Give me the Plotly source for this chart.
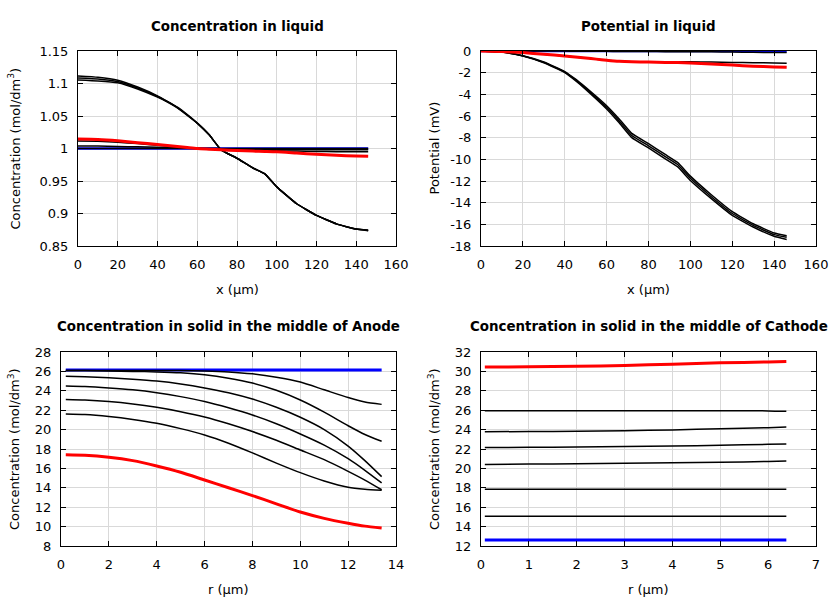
import plotly.graph_objects as go

# ---------------- data ----------------
x_liq = [0, 10, 20, 30, 40, 45, 50, 55, 60, 66, 72, 80, 88, 94, 100, 110, 120, 130, 140, 146]

# Concentration in liquid (mol/dm3)
cl_blue = [1.0] * 20
cl_flat = [1.0] * 20
cl_b2 = [1.004, 1.0038, 1.0032, 1.0025, 1.0018, 1.0014, 1.001, 1.0006, 1.0003, 1.0, 0.9997, 0.9994, 0.999, 0.9988, 0.9986, 0.9984, 0.9982, 0.998, 0.998, 0.998]
cl_b3 = [1.0115, 1.011, 1.0095, 1.0075, 1.005, 1.0038, 1.0025, 1.0012, 1.0, 0.9992, 0.9985, 0.998, 0.9975, 0.997, 0.9965, 0.996, 0.9955, 0.995, 0.995, 0.995]
cl_s1 = [1.1115, 1.1095, 1.105, 1.0945, 1.081, 1.0725, 1.0635, 1.052, 1.039, 1.021, 0.998, 0.985, 0.970, 0.961, 0.941, 0.915, 0.897, 0.884, 0.876, 0.8745]
cl_s2 = [1.1085, 1.107, 1.103, 1.093, 1.080, 1.072, 1.063, 1.0515, 1.039, 1.021, 0.998, 0.985, 0.970, 0.961, 0.941, 0.915, 0.897, 0.884, 0.876, 0.874]
cl_s3 = [1.1055, 1.104, 1.101, 1.0915, 1.079, 1.0715, 1.0625, 1.051, 1.039, 1.021, 0.998, 0.985, 0.970, 0.961, 0.941, 0.915, 0.897, 0.884, 0.876, 0.8735]
cl_red = [1.0145, 1.014, 1.012, 1.009, 1.006, 1.0045, 1.003, 1.0015, 1.0, 0.999, 0.998, 0.997, 0.996, 0.9955, 0.995, 0.993, 0.991, 0.9895, 0.9885, 0.988]

# Potential in liquid (mV)
pl_blue = [0.0] * 20
pl_b1 = [0, 0, 0, 0, -0.01, -0.015, -0.02, -0.025, -0.03, -0.04, -0.05, -0.05, -0.06, -0.06, -0.07, -0.08, -0.1, -0.12, -0.14, -0.15]
pl_b2 = [0, -0.05, -0.15, -0.3, -0.45, -0.55, -0.65, -0.75, -0.85, -0.95, -1.0, -1.0, -1.0, -1.0, -1.0, -1.02, -1.05, -1.08, -1.1, -1.12]
pl_s1 = [0, -0.1, -0.43, -1.01, -1.9, -2.58, -3.36, -4.18, -5.05, -6.27, -7.6, -8.55, -9.55, -10.3, -11.55, -13.27, -14.83, -15.95, -16.8, -17.05]
pl_s2 = [0, -0.1, -0.45, -1.05, -1.95, -2.65, -3.45, -4.3, -5.2, -6.45, -7.8, -8.75, -9.75, -10.5, -11.75, -13.45, -15.0, -16.1, -16.95, -17.2]
pl_s3 = [0, -0.1, -0.47, -1.09, -2.0, -2.72, -3.54, -4.42, -5.35, -6.63, -8.0, -8.95, -9.95, -10.7, -11.95, -13.63, -15.17, -16.25, -17.1, -17.4]
pl_red = [0, -0.05, -0.15, -0.3, -0.45, -0.55, -0.65, -0.75, -0.85, -0.95, -1.0, -1.02, -1.05, -1.07, -1.1, -1.2, -1.3, -1.4, -1.47, -1.5]

# Anode solid concentration (mol/dm3) vs r (um)
r_an = [0.2, 1, 2, 3, 4, 5, 6, 7, 8, 9, 10, 11, 12, 12.7, 13.4]
an_blue = [26.15] * 15
an_l1 = [26.1, 26.1, 26.1, 26.1, 26.1, 26.1, 26.05, 25.95, 25.75, 25.4, 24.9, 24.1, 23.3, 22.85, 22.6]
an_l2 = [26.1, 26.1, 26.05, 26.0, 25.95, 25.85, 25.65, 25.3, 24.8, 24.05, 23.05, 21.8, 20.4, 19.5, 18.8]
an_l3 = [25.5, 25.45, 25.35, 25.2, 25.0, 24.7, 24.3, 23.8, 23.15, 22.3, 21.27, 20.0, 18.3, 16.8, 15.15]
an_l4 = [24.5, 24.45, 24.3, 24.1, 23.8, 23.4, 22.9, 22.25, 21.5, 20.6, 19.55, 18.4, 17.0, 15.8, 14.5]
an_l5 = [23.1, 23.05, 22.9, 22.65, 22.3, 21.85, 21.3, 20.6, 19.8, 18.9, 17.9, 16.9, 15.7, 14.8, 13.8]
an_l6 = [21.6, 21.55, 21.35, 21.05, 20.65, 20.1, 19.45, 18.6, 17.6, 16.55, 15.56, 14.7, 14.05, 13.85, 13.75]
an_red = [17.4, 17.35, 17.15, 16.8, 16.25, 15.6, 14.8, 14.0, 13.2, 12.35, 11.5, 10.85, 10.35, 10.05, 9.85]

# Cathode solid concentration (mol/dm3) vs r (um)
r_ca = [0.08, 1, 2, 3, 4, 5, 6, 6.38]
ca_blue = [12.62] * 8
ca_l1 = [15.07] * 8
ca_l2 = [17.85] * 8
ca_l3 = [20.4, 20.45, 20.48, 20.52, 20.57, 20.63, 20.72, 20.76]
ca_l4 = [22.15, 22.17, 22.2, 22.25, 22.3, 22.38, 22.48, 22.52]
ca_l5 = [23.78, 23.8, 23.83, 23.88, 23.97, 24.08, 24.2, 24.27]
ca_l6 = [25.95, 25.95, 25.95, 25.95, 25.95, 25.95, 25.93, 25.88]
ca_red = [30.45, 30.47, 30.52, 30.62, 30.75, 30.88, 30.98, 31.02]

titles = ["Concentration in liquid", "Potential in liquid",
          "Concentration in solid in the middle of Anode",
          "Concentration in solid in the middle of Cathode"]
conc_label = "Concentration (mol/dm<sup>3</sup>)"

# ---------------- figure ----------------
W, H = 840, 600
FONT = "DejaVu Sans, Verdana, sans-serif"
BLACK = "#000000"
RED = "#ff0000"
BLUE = "#0000ff"

fig = go.Figure()


def add(x, y, ax, color, width, smooth=0.6):
    fig.add_trace(go.Scatter(x=x, y=y, mode="lines", xaxis="x" + ax, yaxis="y" + ax,
                             line=dict(color=color, width=width, shape="spline",
                                       smoothing=smooth),
                             showlegend=False, hoverinfo="skip"))


# panel 1
add(x_liq, cl_blue, "", BLUE, 2.5)
for s in [cl_flat, cl_b2, cl_b3, cl_s1, cl_s2, cl_s3]:
    add(x_liq, s, "", BLACK, 1.5, 0.35)
add(x_liq, cl_red, "", RED, 3)
# panel 2
add(x_liq, pl_blue, "2", BLUE, 2.5)
for s in [pl_b1, pl_b2, pl_s1, pl_s2, pl_s3]:
    add(x_liq, s, "2", BLACK, 1.5, 0.35)
add(x_liq, pl_red, "2", RED, 3)
# panel 3
add(r_an, an_blue, "3", BLUE, 3)
for s in [an_l1, an_l2, an_l3, an_l4, an_l5, an_l6]:
    add(r_an, s, "3", BLACK, 1.5)
add(r_an, an_red, "3", RED, 3)
# panel 4
add(r_ca, ca_blue, "4", BLUE, 3)
for s in [ca_l1, ca_l2, ca_l3, ca_l4, ca_l5, ca_l6]:
    add(r_ca, s, "4", BLACK, 1.5)
add(r_ca, ca_red, "4", RED, 3)


def px_dom_x(a, b):
    return [a / W, b / W]


def px_dom_y(top, bottom):
    return [1 - bottom / H, 1 - top / H]


def fmt(v):
    s = ("%.2f" % v).rstrip("0").rstrip(".")
    return s


axis_common = dict(showline=True, linecolor="black", linewidth=1, mirror="ticks",
                   ticks="inside", ticklen=5, tickcolor="black", tickwidth=1,
                   showgrid=True, gridcolor="#d9d9d9", gridwidth=1, zeroline=False,
                   tickfont=dict(family=FONT, size=13, color="black"),
                   ticklabelstandoff=6, automargin=False)

panels = [
    # xdom px, ydom px, xrange, xticks, yrange, yticks
    ((78, 396), (51, 246), [0, 160], list(range(0, 161, 20)), [0.85, 1.15],
     [0.85, 0.9, 0.95, 1.0, 1.05, 1.1, 1.15]),
    ((481, 816), (51, 246), [0, 160], list(range(0, 161, 20)), [-18, 0],
     list(range(-18, 1, 2))),
    ((61, 396), (352, 546), [0, 14], list(range(0, 15, 2)), [8, 28],
     list(range(8, 29, 2))),
    ((481, 816), (352, 546), [0, 7], list(range(0, 8)), [12, 32],
     list(range(12, 33, 2))),
]

layout = dict(width=W, height=H, margin=dict(l=0, r=0, t=0, b=0, pad=0, autoexpand=False),
              autosize=False,
              paper_bgcolor="white", plot_bgcolor="white", showlegend=False)

for i, (xd, yd, xr, xt, yr, yt) in enumerate(panels):
    n = "" if i == 0 else str(i + 1)
    layout["xaxis" + n] = dict(axis_common, domain=px_dom_x(*xd), range=xr,
                               tickvals=xt, ticktext=[fmt(v) for v in xt],
                               anchor="y" + n)
    layout["yaxis" + n] = dict(axis_common, domain=px_dom_y(*yd), range=yr,
                               tickvals=yt, ticktext=[fmt(v) for v in yt],
                               anchor="x" + n)

fig.update_layout(**layout)

ann = []
ylabels = [conc_label, "Potential (mV)", conc_label, conc_label]
xlabels = ["x (µm)", "x (µm)", "r (µm)", "r (µm)"]
for i, (xd, yd, *_rest) in enumerate(panels):
    cx = (xd[0] + xd[1]) / 2
    title_y = 26 if yd[0] < 100 else 326
    xlab_y = 289 if yd[0] < 100 else 589
    ylab_x = 14 if xd[0] < 420 else 434
    cy = (yd[0] + yd[1]) / 2
    ann.append(dict(text="<b>" + titles[i] + "</b>", x=cx / W, y=1 - title_y / H,
                    xref="paper", yref="paper", showarrow=False,
                    xanchor="center", yanchor="middle",
                    font=dict(family=FONT, size=13.4, color="black")))
    ann.append(dict(text=xlabels[i], x=cx / W, y=1 - xlab_y / H,
                    xref="paper", yref="paper", showarrow=False,
                    xanchor="center", yanchor="middle",
                    font=dict(family=FONT, size=13, color="black")))
    ann.append(dict(text=ylabels[i], x=ylab_x / W, y=1 - cy / H,
                    xref="paper", yref="paper", showarrow=False, textangle=-90,
                    xanchor="center", yanchor="middle",
                    font=dict(family=FONT, size=13, color="black")))

fig.update_layout(annotations=ann)
fig.write_html("out.html", config={"displayModeBar": False},
               post_script="document.body.style.margin='0';document.body.style.padding='0';")
